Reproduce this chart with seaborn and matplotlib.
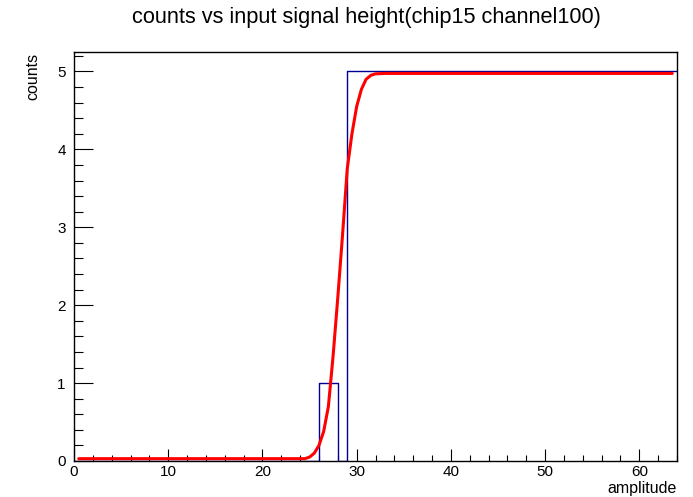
import numpy as np
import pandas as pd
import matplotlib
matplotlib.use("Agg")
import matplotlib.pyplot as plt
import seaborn as sns
from matplotlib.ticker import MultipleLocator

# ---- data ----
bin_edges = list(range(0, 65))
bin_counts = [0] * 26 + [1, 1, 0] + [5] * 35
fit_x = [0.5, 24.5, 25.0, 25.5, 26.0, 26.5, 27.0, 27.5, 28.0, 28.5, 29.0,
         29.5, 30.0, 30.5, 31.0, 31.5, 32.0, 33.0, 63.5]
fit_y = [0.03, 0.03, 0.05, 0.10, 0.20, 0.38, 0.70, 1.35, 2.10, 2.90, 3.75,
         4.20, 4.55, 4.77, 4.90, 4.95, 4.97, 4.975, 4.975]
title = "counts vs input signal height(chip15 channel100)"
xlabel = "amplitude"
ylabel = "counts"

sns.set_style("white")
plt.rcParams["font.family"] = ["Liberation Sans", "DejaVu Sans"]
plt.rcParams["text.color"] = "black"
plt.rcParams["xtick.color"] = "black"
plt.rcParams["ytick.color"] = "black"

fig = plt.figure(figsize=(6.93, 4.97), dpi=100)
ax = fig.add_axes([74 / 693, 1 - 461 / 497, 603 / 693, 409 / 497])

centers = [e + 0.5 for e in bin_edges[:-1]]
hist_df = pd.DataFrame({"x": centers, "w": bin_counts})
sns.histplot(data=hist_df, x="x", weights="w", bins=bin_edges, element="step",
             fill=False, color="#000099", linewidth=1.0, ax=ax)
fit_df = pd.DataFrame({"x": fit_x, "y": fit_y})
sns.lineplot(data=fit_df, x="x", y="y", color="red", linewidth=2.2, ax=ax)

ax.set_xlim(0, 64)
ax.set_ylim(0, 5.25)
ax.xaxis.set_major_locator(MultipleLocator(10))
ax.xaxis.set_minor_locator(MultipleLocator(2))
ax.yaxis.set_major_locator(MultipleLocator(1))
ax.yaxis.set_minor_locator(MultipleLocator(0.2))
ax.tick_params(axis="both", which="both", direction="in", top=False, right=False,
               bottom=True, left=True, labelsize=11, color="black",
               labelcolor="black", width=0.8)
ax.tick_params(axis="y", which="major", length=13.5, pad=6)
ax.tick_params(axis="y", which="minor", length=6.7)
ax.tick_params(axis="x", which="major", length=8.6, pad=3)
ax.tick_params(axis="x", which="minor", length=4.3)
for s in ax.spines.values():
    s.set_visible(True)
    s.set_color("black")
    s.set_linewidth(1.0)

ax.set_xlabel("")
ax.set_ylabel("")
fig.text(677 / 693, 1 - 489 / 497, xlabel, ha="right", va="center", fontsize=11.5)
fig.text(33 / 693, 1 - 53 / 497, ylabel, ha="center", va="top", rotation=90, fontsize=11.5)
fig.text(366 / 693, 1 - 18 / 497, title, ha="center", va="center", fontsize=15.7)

fig.savefig("out.png", dpi=100)
